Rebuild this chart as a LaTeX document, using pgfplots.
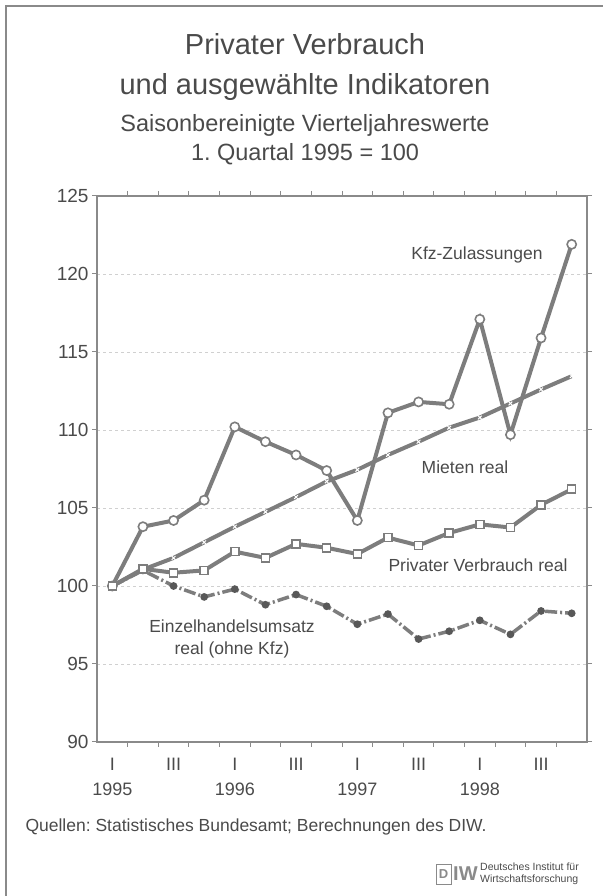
\documentclass[border=0pt]{standalone}
\usepackage{fontspec}
\setmainfont{Liberation Sans}
\usepackage{pgfplots}
\pgfplotsset{compat=1.18}
\definecolor{lg}{HTML}{7D7D7D}
\definecolor{tg}{HTML}{4A4A4A}
\definecolor{ax}{HTML}{8A8A8A}
\definecolor{gr}{HTML}{D0D0D0}
\frenchspacing
\begin{document}
\frenchspacing
\begin{tikzpicture}[x=1pt,y=1pt]
\path[use as bounding box] (0pt,0pt) rectangle (609pt,896pt);
\draw[ax, line width=1.3] (6pt,0pt) -- (6pt,890pt) -- (603pt,890pt);
\node[tg, anchor=base, font=\fontsize{29}{34}\selectfont] at (305pt,841pt) {Privater Verbrauch};
\node[tg, anchor=base, font=\fontsize{29}{34}\selectfont] at (305pt,801pt) {und ausgewählte Indikatoren};
\node[tg, anchor=base, font=\fontsize{23.5}{28}\selectfont] at (305pt,764pt) {Saisonbereinigte Vierteljahreswerte};
\node[tg, anchor=base, font=\fontsize{23.5}{28}\selectfont] at (305pt,735pt) {1. Quartal 1995 = 100};
\begin{axis}[
  at={(97pt,154pt)}, anchor=south west,
  width=490pt, height=546pt, scale only axis,
  xmin=-0.5, xmax=15.5, ymin=90, ymax=125,
  axis line style={ax, line width=1.2},
  ytick={90,95,...,125},
  yticklabel style={tg, font=\fontsize{19}{22}\selectfont, /pgf/number format/assume math mode=true},
  ymajorgrids, grid style={gr, dashed, line width=0.8},
  major tick style={ax, line width=1},
  tick align=outside, major tick length=5pt,
  xtick={0.5,1.5,...,14.5}, xticklabels={},
  extra x ticks={0,2,...,14},
  extra x tick style={major tick length=0pt, grid=none},
  extra x tick labels={I\\1995,III,I\\1996,III,I\\1997,III,I\\1998,III},
  extra x tick style={xticklabel style={tg, font=\fontsize{18}{25}\selectfont, align=center, anchor=north, yshift=-13pt}},
  clip=false,
]
\addplot[lg, line width=4, mark=*, mark options={solid, fill=white, draw=lg, line width=1.6}, mark size=4.6pt] coordinates {
(0,100) (1,103.8) (2,104.2) (3,105.5) (4,110.2) (5,109.25) (6,108.4) (7,107.4)
(8,104.2) (9,111.1) (10,111.8) (11,111.65) (12,117.1) (13,109.7) (14,115.9) (15,121.9)};
\addplot[lg, line width=3.5, dash pattern=on 12pt off 3pt on 2pt off 3pt, mark=*, mark options={solid, fill=lg!70!black, draw=lg!70!black}, mark size=2pt] coordinates {
(0,100) (1,101.0) (2,100.0) (3,99.3) (4,99.8) (5,98.8) (6,99.45) (7,98.7)
(8,97.55) (9,98.2) (10,96.6) (11,97.1) (12,97.8) (13,96.9) (14,98.4) (15,98.25)};
\addplot[lg, line width=4, mark=square*, mark options={fill=white, draw=lg, line width=1.6}, mark size=4pt] coordinates {
(0,100) (1,101.1) (2,100.85) (3,101.0) (4,102.2) (5,101.8) (6,102.7) (7,102.45)
(8,102.05) (9,103.1) (10,102.6) (11,103.4) (12,103.95) (13,103.75) (14,105.2) (15,106.2)};
\addplot[lg, line width=4, mark=x, mark options={white, line width=1}, mark size=2.6pt] coordinates {
(0,100) (1,101.05) (2,101.8) (3,102.8) (4,103.8) (5,104.75) (6,105.7) (7,106.7)
(8,107.45) (9,108.4) (10,109.25) (11,110.15) (12,110.8) (13,111.7) (14,112.6) (15,113.45)};
\end{axis}
\begin{scope}[every node/.style={tg, font=\fontsize{17.5}{21}\selectfont}]
\node at (477pt,641pt) {Kfz-Zulassungen};
\node at (465pt,429pt) {Mieten real};
\node at (478pt,331pt) {Privater Verbrauch real};
\node at (232pt,270pt) {Einzelhandelsumsatz};
\node at (232pt,246pt) {real (ohne Kfz)};
\node[anchor=west] at (22pt,69pt) {Quellen: Statistisches Bundesamt; Berechnungen des DIW.};
\end{scope}
% DIW logo
\draw[ax, line width=0.8] (436pt,12pt) rectangle (451pt,32pt);
\node[ax, inner sep=0pt, font=\fontsize{13}{13}\selectfont\bfseries] at (443.5pt,22pt) {D};
\node[ax, inner sep=0pt, anchor=west, font=\fontsize{20}{20}\selectfont\bfseries] at (453pt,22pt) {IW};
\node[tg, anchor=west, inner sep=0pt, align=left, font=\fontsize{10.5}{11.5}\selectfont] at (480pt,22pt) {Deutsches Institut für\\Wirtschaftsforschung};
\end{tikzpicture}
\end{document}
